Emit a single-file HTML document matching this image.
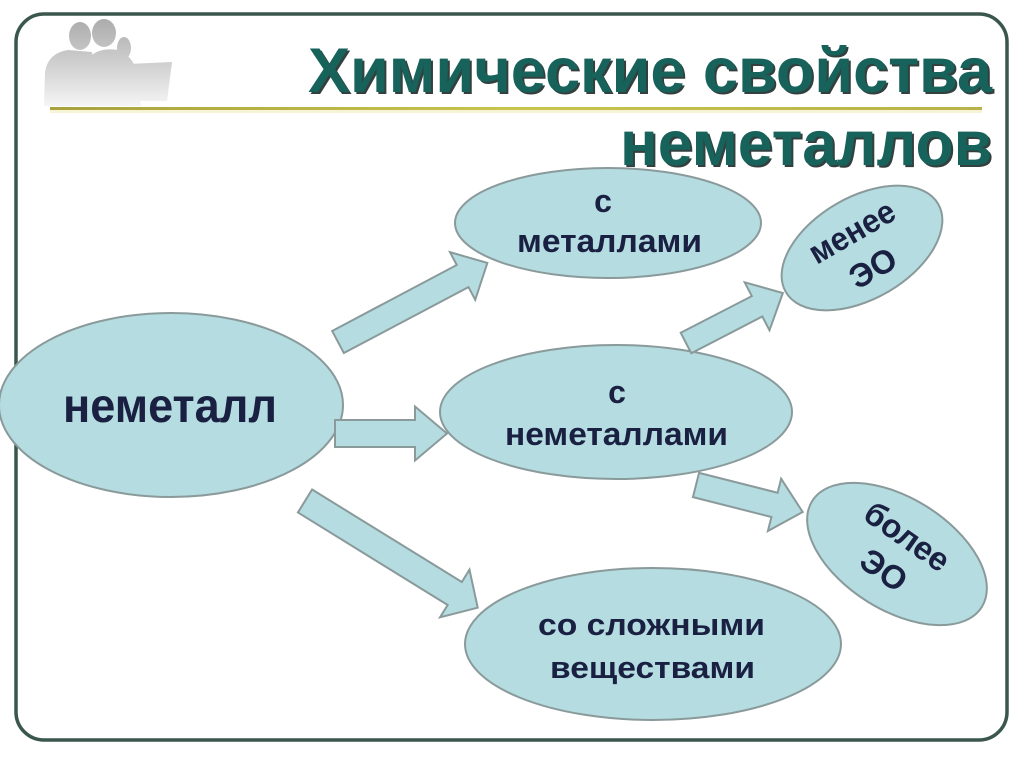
<!DOCTYPE html>
<html><head><meta charset="utf-8"><style>
html,body{margin:0;padding:0;background:#fff;}
svg{display:block;}
text{font-family:"Liberation Sans",Arial,sans-serif;font-weight:bold;}
</style></head><body>
<svg width="1024" height="767" viewBox="0 0 1024 767" xmlns="http://www.w3.org/2000/svg">
<defs>
<linearGradient id="sil" gradientUnits="userSpaceOnUse" x1="0" y1="20" x2="0" y2="106">
<stop offset="0" stop-color="#acacac"/><stop offset="0.6" stop-color="#d6d6d6"/><stop offset="1" stop-color="#f5f5f5"/>
</linearGradient>
<linearGradient id="rule" x1="0" y1="0" x2="1" y2="0">
<stop offset="0" stop-color="#a8a23e"/><stop offset="0.5" stop-color="#c9c44e"/><stop offset="1" stop-color="#b8b24a"/>
</linearGradient>
</defs>
<rect width="1024" height="767" fill="#fff"/>
<!-- silhouette -->
<g fill="url(#sil)">
<path d="M44,106 L45,72 Q48,53 68,50 L92,52 L99,106 Z"/>
<ellipse cx="80" cy="36" rx="11" ry="14"/>
<path d="M86,106 L89,58 Q98,47 118,50 Q134,56 138,76 L141,106 Z"/>
<ellipse cx="104" cy="33" rx="12" ry="14"/>
<ellipse cx="124" cy="48" rx="7" ry="11"/>
<polygon points="128,64 172,62 167,101 130,101"/>
</g>
<!-- frame -->
<rect x="16" y="14" width="991" height="726" rx="28" ry="28" fill="none" stroke="#3a564d" stroke-width="3.5"/>
<!-- rule -->
<rect x="50" y="110" width="932" height="3" fill="#f3efc4" opacity="0.7"/>
<rect x="50" y="107" width="932" height="3" fill="url(#rule)"/>
<!-- title -->
<g font-size="63">
<text x="310" y="94" textLength="684" lengthAdjust="spacingAndGlyphs" fill="#33403e">Химические свойства</text>
<text x="622" y="167" textLength="372" lengthAdjust="spacingAndGlyphs" fill="#33403e">неметаллов</text>
<text x="308" y="92" textLength="684" lengthAdjust="spacingAndGlyphs" fill="#17625b">Химические свойства</text>
<text x="620" y="165" textLength="372" lengthAdjust="spacingAndGlyphs" fill="#17625b">неметаллов</text>
</g>
<!-- ellipses -->
<g fill="#b5dce0" stroke="#8a9a9b" stroke-width="2">
<ellipse cx="171" cy="405" rx="172" ry="92"/>
<ellipse cx="608" cy="223" rx="153" ry="55"/>
<ellipse cx="616" cy="412" rx="176" ry="67"/>
<ellipse cx="0" cy="0" rx="88" ry="51" transform="translate(862,248) rotate(-30)"/>
<ellipse cx="0" cy="0" rx="100" ry="56" transform="translate(897,554) rotate(32)"/>
<ellipse cx="653" cy="644" rx="188" ry="76"/>
</g>
<!-- arrows -->
<g fill="#b5dce0" stroke="#8a9a9b" stroke-width="2" stroke-linejoin="miter">
<polygon transform="translate(338,342) rotate(-27.9)" points="0,-12.5 141,-12.5 141,-27 169,0 141,27 141,12.5 0,12.5"/>
<polygon transform="translate(335,433.5)" points="0,-13.5 80,-13.5 80,-27 112,0 80,27 80,13.5 0,13.5"/>
<polygon transform="translate(305,501) rotate(31.7)" points="0,-13.5 176,-13.5 176,-28 203,0 176,28 176,13.5 0,13.5"/>
<polygon transform="translate(686,343) rotate(-27.3)" points="0,-11.5 80,-11.5 80,-27 109,0 80,27 80,11.5 0,11.5"/>
<polygon transform="translate(696,485) rotate(14.2)" points="0,-12.5 81,-12.5 81,-27 110,0 81,27 81,12.5 0,12.5"/>
</g>
<!-- labels -->
<g fill="#1a2042">
<text x="63" y="422" font-size="48" textLength="214" lengthAdjust="spacingAndGlyphs">неметалл</text>
<text x="603" y="212" font-size="32" text-anchor="middle">с</text>
<text x="517" y="252" font-size="32" textLength="185" lengthAdjust="spacingAndGlyphs">металлами</text>
<text x="617" y="403" font-size="32" text-anchor="middle">с</text>
<text x="505" y="445" font-size="32" textLength="223" lengthAdjust="spacingAndGlyphs">неметаллами</text>
<text x="538" y="635" font-size="31" textLength="227" lengthAdjust="spacingAndGlyphs">со сложными</text>
<text x="550" y="678" font-size="31" textLength="205" lengthAdjust="spacingAndGlyphs">веществами</text>
<g transform="translate(863,251) rotate(-30)" font-size="33" text-anchor="middle">
<text x="0" y="-11" textLength="94" lengthAdjust="spacingAndGlyphs">менее</text>
<text x="0" y="31">ЭО</text>
</g>
<g transform="translate(895,554) rotate(35)" font-size="33" text-anchor="middle">
<text x="0" y="-10" textLength="96" lengthAdjust="spacingAndGlyphs">более</text>
<text x="0" y="31">ЭО</text>
</g>
</g>
</svg>
</body></html>
